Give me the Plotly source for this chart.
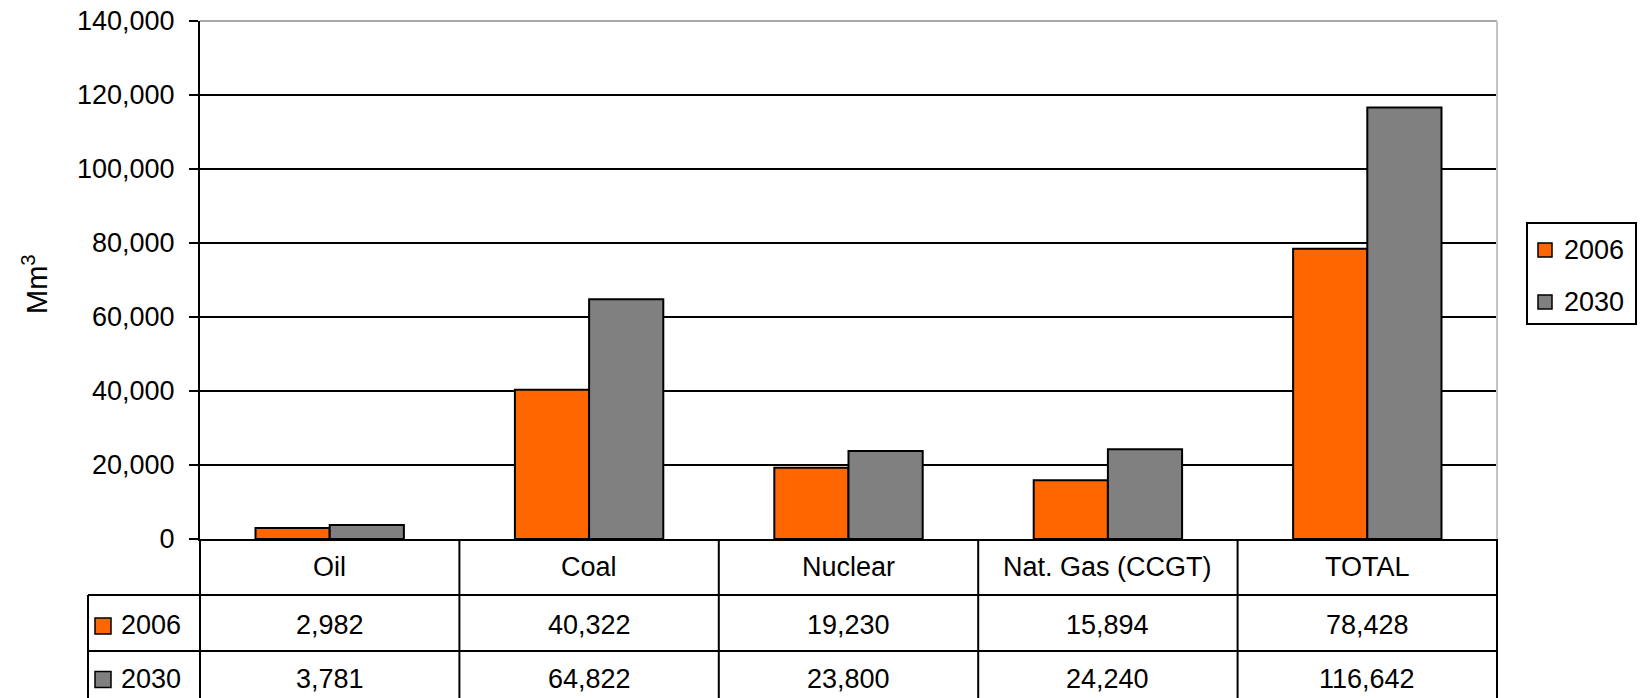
import plotly.graph_objects as go

# Data
categories = ["Oil", "Coal", "Nuclear", "Nat. Gas (CCGT)", "TOTAL"]
series_names = ["2006", "2030"]
values_2006 = [2982, 40322, 19230, 15894, 78428]
values_2030 = [3781, 64822, 23800, 24240, 116642]
y_ticks = [0, 20000, 40000, 60000, 80000, 100000, 120000, 140000]
y_title = "Mm<sup>3</sup>"

series_values = {"2006": values_2006, "2030": values_2030}
series_colors = {"2006": "#FF6600", "2030": "#808080"}

FONT = "Liberation Sans, Arial, sans-serif"
FS = 27

# Canvas and margins (pixels)
W, H = 1641, 698
L, R, T, B = 200, 144, 21, 159
PW, PH = W - L - R, H - T - B


def px_x(px):
    return (px - L) / PW


def px_y(py):
    return (H - B - py) / PH


fig = go.Figure()
for name in series_names:
    fig.add_trace(go.Bar(
        x=categories, y=series_values[name], name=name,
        marker=dict(color=series_colors[name], line=dict(color="black", width=2)),
        showlegend=False,
    ))

shapes = []
annotations = []

# Plot border (top and right)
shapes.append(dict(type="line", xref="paper", yref="paper", x0=0, x1=1, y0=1, y1=1,
                   line=dict(color="#a8a8a8", width=2), layer="above"))
shapes.append(dict(type="line", xref="paper", yref="paper", x0=1, x1=1, y0=0, y1=1,
                   line=dict(color="#c4c4c4", width=2), layer="above"))

# Data table below the chart
n = len(categories)
row_top, row_mid1, row_mid2, row_bot = 539, 595, 651, 700
first_col_left = 88
ybot = px_y(row_bot)
for i in range(n + 1):
    shapes.append(dict(type="line", xref="paper", yref="paper",
                       x0=i / n, x1=i / n, y0=0, y1=ybot,
                       line=dict(color="black", width=2)))
shapes.append(dict(type="line", xref="paper", yref="paper",
                   x0=px_x(first_col_left), x1=px_x(first_col_left),
                   y0=px_y(row_mid1), y1=ybot, line=dict(color="black", width=2)))
for ry in (row_mid1, row_mid2):
    shapes.append(dict(type="line", xref="paper", yref="paper",
                       x0=px_x(first_col_left), x1=1, y0=px_y(ry), y1=px_y(ry),
                       line=dict(color="black", width=2)))

txt = dict(showarrow=False, font=dict(family=FONT, size=FS, color="black"))
header_y = px_y((row_top + row_mid1) / 2)
row_centers = [(row_mid1 + row_mid2) / 2 + 2, (row_mid2 + row_bot) / 2 + 3]
for c in categories:
    annotations.append(dict(x=c, y=header_y, xref="x", yref="paper",
                            text=c, yanchor="middle", **txt))
for name, rpy in zip(series_names, row_centers):
    ry = px_y(rpy)
    for c, v in zip(categories, series_values[name]):
        annotations.append(dict(x=c, y=ry, xref="x", yref="paper",
                                text=f"{v:,}", yanchor="middle", **txt))
    # key square + label in the first column
    shapes.append(dict(type="rect", xref="paper", yref="paper",
                       x0=px_x(95), x1=px_x(111), y0=px_y(rpy - 7), y1=px_y(rpy + 9),
                       fillcolor=series_colors[name], line=dict(color="black", width=1.5)))
    annotations.append(dict(x=px_x(119), y=ry, xref="paper", yref="paper",
                            text=name, xanchor="left", yanchor="middle", **txt))

# Legend box
shapes.append(dict(type="rect", xref="paper", yref="paper",
                   x0=px_x(1527), x1=px_x(1636), y0=px_y(223), y1=px_y(324),
                   fillcolor="white", line=dict(color="black", width=2)))
for name, cy in zip(series_names, [250, 302]):
    shapes.append(dict(type="rect", xref="paper", yref="paper",
                       x0=px_x(1538), x1=px_x(1552), y0=px_y(cy - 7), y1=px_y(cy + 7),
                       fillcolor=series_colors[name], line=dict(color="black", width=1.5)))
    annotations.append(dict(x=px_x(1562), y=px_y(cy), xref="paper", yref="paper",
                            text=name, xanchor="left", yanchor="middle", **txt))

# Y axis title
annotations.append(dict(x=px_x(35), y=px_y(284), xref="paper", yref="paper",
                        text=y_title, textangle=-90, xanchor="center", yanchor="middle",
                        showarrow=False, font=dict(family=FONT, size=29, color="black")))

fig.update_layout(
    width=W, height=H,
    margin=dict(l=L, r=R, t=T, b=B, pad=0, autoexpand=False),
    paper_bgcolor="white", plot_bgcolor="white",
    barmode="group", bargap=0.428, bargroupgap=0,
    font=dict(family=FONT, size=FS, color="black"),
    shapes=shapes, annotations=annotations,
    showlegend=False,
)
fig.update_xaxes(showline=True, linecolor="black", linewidth=2, showticklabels=False,
                 ticks="", showgrid=False, zeroline=False, range=[-0.5, n - 0.5],
                 automargin=False)
fig.update_yaxes(range=[0, 140000], tickvals=y_ticks, tickformat=",",
                 ticks="outside", ticklen=9, tickwidth=2, tickcolor="black",
                 showgrid=True, gridcolor="black", gridwidth=2,
                 showline=True, linecolor="black", linewidth=2, zeroline=False,
                 automargin=False,
                 ticklabelstandoff=9, tickfont=dict(family=FONT, size=FS, color="black"))

fig.write_html("out.html")
